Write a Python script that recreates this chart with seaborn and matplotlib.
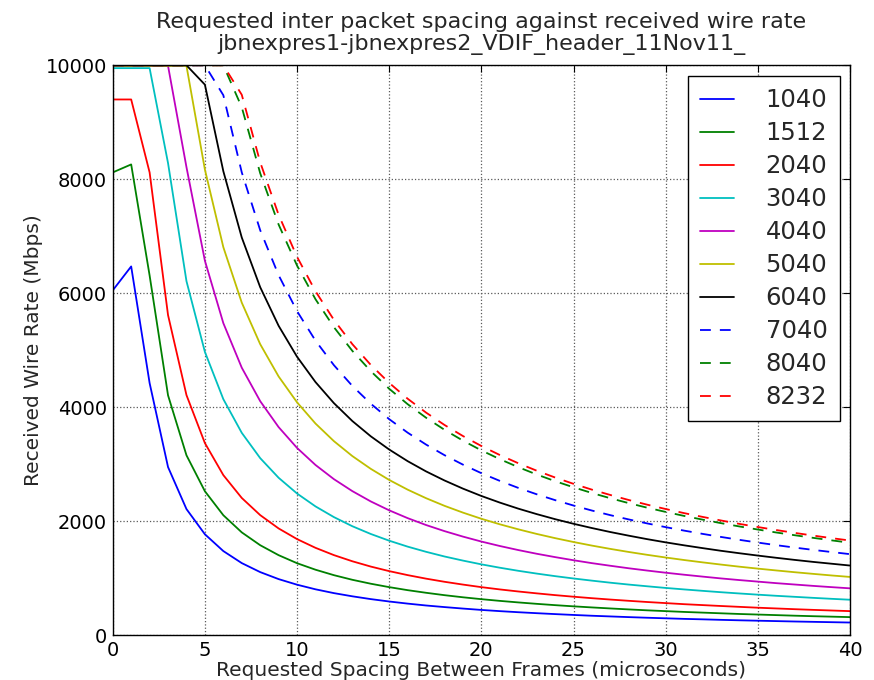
import pandas as pd
import seaborn as sns
import matplotlib.pyplot as plt

# Données (Mbps), espacement 0..40 microsecondes
spacing = list(range(41))

rate_1040 = [6050, 6470, 4424, 2949, 2212, 1770, 1475, 1264, 1106, 983, 885, 804, 737, 681, 632,
             590, 553, 520, 492, 466, 442, 421, 402, 385, 369, 354, 340, 328, 316, 305,
             295, 285, 277, 268, 260, 253, 246, 239, 233, 227, 221]
rate_1512 = [8120, 8260, 6312, 4208, 3156, 2525, 2104, 1803, 1578, 1403, 1262, 1148, 1052, 971, 902,
             842, 789, 743, 701, 664, 631, 601, 574, 549, 526, 505, 486, 468, 451, 435,
             421, 407, 395, 383, 371, 361, 351, 341, 332, 324, 316]
rate_2040 = [9400, 9400, 8120, 5616, 4212, 3370, 2808, 2407, 2106, 1872, 1685, 1532, 1404, 1296, 1203,
             1123, 1053, 991, 936, 887, 842, 802, 766, 733, 702, 674, 648, 624, 602, 581,
             562, 543, 527, 511, 496, 481, 468, 455, 443, 432, 421]
rate_3040 = [9950, 9950, 9950, 8283, 6212, 4970, 4141, 3550, 3106, 2761, 2485, 2259, 2071, 1911, 1775,
             1657, 1553, 1462, 1380, 1308, 1242, 1183, 1129, 1080, 1035, 994, 956, 920, 887, 857,
             828, 802, 777, 753, 731, 710, 690, 672, 654, 637, 621]
rate_4040 = [9990, 9990, 9990, 9990, 8212, 6570, 5475, 4693, 4106, 3650, 3285, 2986, 2737, 2527, 2346,
             2190, 2053, 1932, 1825, 1729, 1642, 1564, 1493, 1428, 1369, 1314, 1263, 1217, 1173, 1133,
             1095, 1060, 1027, 995, 966, 939, 912, 888, 864, 842, 821]
rate_5040 = [9990, 9990, 9990, 9990, 9990, 8170, 6808, 5835, 5106, 4539, 4085, 3713, 3404, 3142, 2918,
             2723, 2553, 2403, 2269, 2150, 2042, 1945, 1857, 1776, 1702, 1634, 1571, 1513, 1459, 1409,
             1362, 1318, 1277, 1238, 1201, 1167, 1135, 1104, 1075, 1047, 1021]
rate_6040 = [10000, 10000, 10000, 10000, 10000, 9660, 8141, 6978, 6106, 5428, 4885, 4441, 4071, 3757, 3489,
             3257, 3053, 2873, 2714, 2571, 2442, 2326, 2220, 2124, 2035, 1954, 1879, 1809, 1745, 1684,
             1628, 1576, 1527, 1480, 1437, 1396, 1357, 1320, 1285, 1253, 1221]
rate_7040 = [10000, 10000, 10000, 10000, 10000, 10000, 9475, 8121, 7106, 6316, 5685, 5168, 4737, 4373, 4061,
             3790, 3553, 3344, 3158, 2992, 2842, 2707, 2584, 2472, 2369, 2274, 2186, 2105, 2030, 1960,
             1895, 1834, 1777, 1723, 1672, 1624, 1579, 1536, 1496, 1458, 1421]
rate_8040 = [10000, 10000, 10000, 10000, 10000, 10000, 10000, 9264, 8106, 7205, 6485, 5895, 5404, 4988, 4632,
             4323, 4053, 3815, 3603, 3413, 3242, 3088, 2948, 2819, 2702, 2594, 2494, 2402, 2316, 2236,
             2162, 2092, 2027, 1965, 1907, 1853, 1801, 1753, 1707, 1663, 1621]
rate_8232 = [10000, 10000, 10000, 10000, 10000, 10000, 10000, 9483, 8298, 7376, 6638, 6035, 5532, 5106, 4742,
             4426, 4149, 3905, 3688, 3494, 3319, 3161, 3017, 2886, 2766, 2655, 2553, 2459, 2371, 2289,
             2213, 2141, 2075, 2012, 1952, 1897, 1844, 1794, 1747, 1702, 1660]

labels = ['1040', '1512', '2040', '3040', '4040', '5040', '6040', '7040', '8040', '8232']
series = [rate_1040, rate_1512, rate_2040, rate_3040, rate_4040,
          rate_5040, rate_6040, rate_7040, rate_8040, rate_8232]
colors = ['#0000ff', '#008000', '#ff0000', '#00bfbf', '#bf00bf',
          '#bfbf00', '#000000', '#0000ff', '#008000', '#ff0000']
dashed = [False] * 7 + [True] * 3

sns.set_style('white')
plt.rcParams['font.family'] = ['DejaVu Sans']

fig = plt.figure(figsize=(8.74, 6.8), dpi=100)
ax = fig.add_axes([0.129, 0.066, 0.8435, 0.838])

for lab, vals, col, dsh in zip(labels, series, colors, dashed):
    df = pd.DataFrame({'spacing': spacing, 'rate': vals})
    sns.lineplot(x='spacing', y='rate', data=df, color=col, linewidth=1.3, label=lab, ax=ax)
    if dsh:
        ax.lines[-1].set_dashes((6, 5))

ax.set_xlim(0, 40)
ax.set_ylim(0, 10000)
ax.set_xticks(range(0, 41, 5))
ax.set_yticks(range(0, 10001, 2000))
ax.tick_params(axis='both', labelsize=14, top=True, right=True, length=5, width=0.8,
               direction='in', pad=4, colors='black')
ax.grid(True, linestyle=':', color='0.35', linewidth=0.9)
for sp in ax.spines.values():
    sp.set_color('black')
    sp.set_linewidth(1.0)

ax.set_title('Requested inter packet spacing against received wire rate\n'
             'jbnexpres1-jbnexpres2_VDIF_header_11Nov11_', fontsize=16, linespacing=1.1, pad=11)
ax.set_xlabel('Requested Spacing Between Frames (microseconds)', fontsize=14.5, labelpad=1)
ax.set_ylabel('Received Wire Rate (Mbps)', fontsize=14.5, labelpad=2)

leg = ax.legend(loc='upper right', fontsize=17.5, handlelength=1.4, labelspacing=0.37,
                borderpad=0.5, handletextpad=1.3, fancybox=False, framealpha=1,
                borderaxespad=0, bbox_to_anchor=(0.986, 0.981))
leg.get_frame().set_edgecolor('black')
leg.get_frame().set_linewidth(1.0)

fig.savefig('out.png', dpi=100, facecolor='white')
